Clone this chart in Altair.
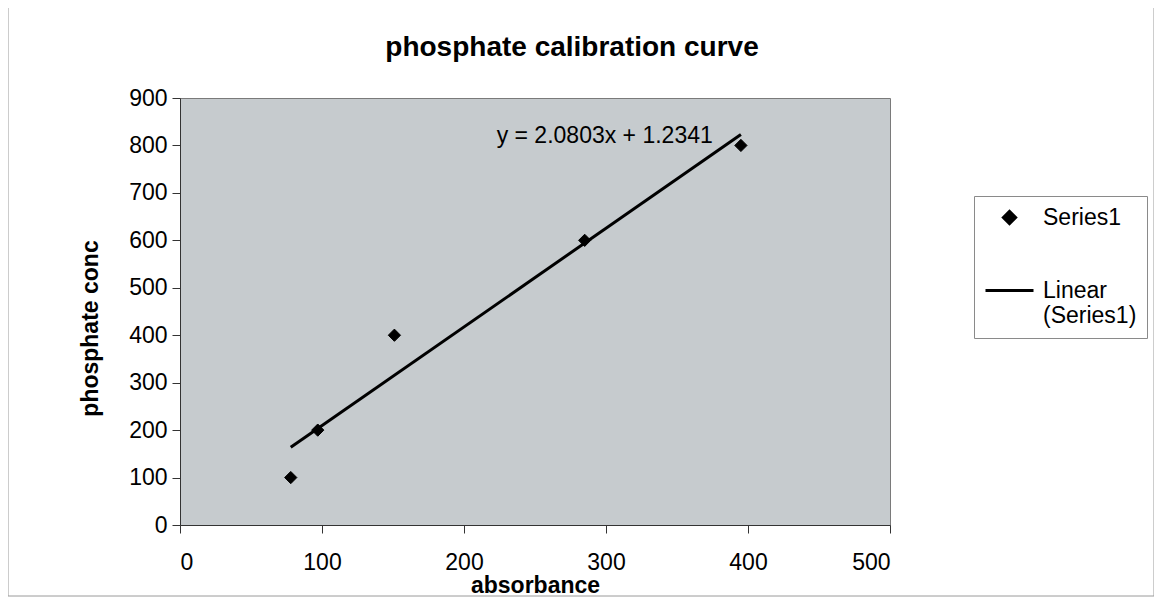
import altair as alt
import pandas as pd

absorbance = [78, 97, 151, 285, 395]
phosphate_conc = [100, 200, 400, 600, 800]
series = ["Series1"] * 5

legend_names = ["Series1", "Linear (Series1)"]
equation_text = "y = 2.0803x + 1.2341"
x_ticks = [0, 100, 200, 300, 400, 500]
y_ticks = [0, 100, 200, 300, 400, 500, 600, 700, 800, 900]

df = pd.DataFrame({"absorbance": absorbance, "conc": phosphate_conc, "series": series})

FONT = "Liberation Sans"

xscale = alt.Scale(domain=[0, 500], nice=False)
yscale = alt.Scale(domain=[0, 900], nice=False)

base = alt.Chart(df)

points = base.mark_point(filled=False, fill="black", stroke="black",
                         strokeWidth=1, fillOpacity=1, opacity=1).encode(
    x=alt.X("absorbance:Q", scale=xscale,
            axis=alt.Axis(values=x_ticks, title="absorbance")),
    y=alt.Y("conc:Q", scale=yscale,
            axis=alt.Axis(values=y_ticks, title="phosphate conc",
                          titleX=-90, titleY=230, titleAlign="center",
                          titleBaseline="middle", titleAngle=270)),
    shape=alt.Shape("series:N",
                    scale=alt.Scale(domain=legend_names, range=["diamond", "stroke"]),
                    legend=alt.Legend(
                        title=None, orient="none", legendX=794, legendY=98,
                        strokeColor="#8a8a8a", padding=10,
                        labelFontSize=23, labelFont=FONT,
                        labelColor="black", labelOffset=8, rowPadding=35,
                        symbolStrokeColor="black", symbolFillColor="black",
                        symbolStrokeWidth=3,
                        labelExpr="datum.label == 'Linear (Series1)' ? ['Linear', '(Series1)'] : datum.label",
                    )),
    size=alt.Size("series:N",
                  scale=alt.Scale(domain=legend_names, range=[150, 2304])),
)

trend = base.transform_regression("absorbance", "conc").mark_line(
    color="black", strokeWidth=3
).encode(
    x=alt.X("absorbance:Q", scale=xscale),
    y=alt.Y("conc:Q", scale=yscale),
)

eq = alt.Chart(pd.DataFrame({"t": [equation_text]})).mark_text(
    align="left", baseline="alphabetic", fontSize=23, font=FONT, color="black"
).encode(
    x=alt.datum(223), y=alt.datum(806), text="t:N"
)

frame = alt.Chart(pd.DataFrame({"a": [0]})).mark_rect(
    fill=None, stroke="#9a9a9a", strokeWidth=1
).encode(
    x=alt.value(-172), x2=alt.value(974), y=alt.value(-91), y2=alt.value(498)
)

chart = alt.layer(frame, trend, points, eq).properties(
    width=710, height=427,
    autosize=alt.AutoSizeParams(type="none"),
    padding={"left": 172, "top": 90, "right": 264, "bottom": 72},
    title=alt.Title("phosphate calibration curve", fontSize=28, font=FONT,
                    fontWeight="bold", color="black", anchor="middle",
                    dx=37, offset=-55),
    background="white",
).configure_view(
    fill="#c6cbce", stroke="#7a7a7a", strokeWidth=1
).configure_axis(
    labelFont=FONT, labelFontSize=23, labelColor="black",
    titleFont=FONT, titleFontSize=23, titleFontWeight="bold", titleColor="black",
    grid=False, domainColor="#333333", tickColor="#333333", tickSize=8,
    domainWidth=1,
).configure_axisY(
    labelPadding=5
).configure_axisX(
    labelPadding=18, titlePadding=0
)

chart.save("out.html", embed_options={"renderer": "svg", "actions": False})
